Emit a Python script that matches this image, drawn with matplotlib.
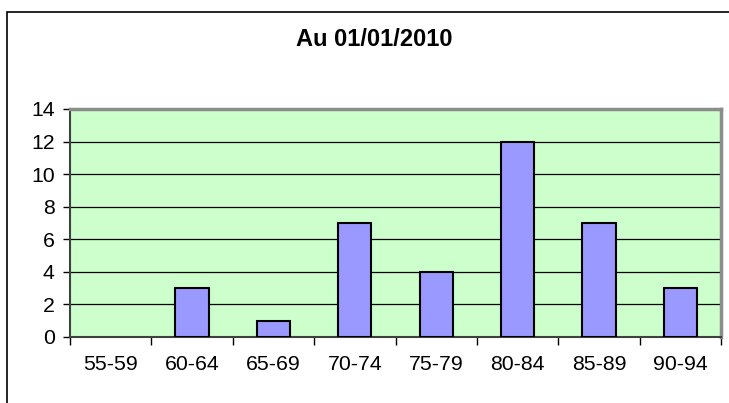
import matplotlib.pyplot as plt
import matplotlib.patches as patches
import numpy as np

categories = ["55-59", "60-64", "65-69", "70-74", "75-79", "80-84", "85-89", "90-94"]
counts = [0, 3, 1, 7, 4, 12, 7, 3]
yticks = [0, 2, 4, 6, 8, 10, 12, 14]

plt.rcParams['font.family'] = ['Liberation Sans', 'DejaVu Sans']

fig = plt.figure(figsize=(7.29, 4.03), dpi=100)
ax = fig.add_axes([70 / 729, 66 / 403, 651 / 729, 228 / 403])

x = np.arange(len(categories))
bars = ax.bar(x, counts, width=0.41, color='#9999FF', edgecolor='black', linewidth=1.5, zorder=3)
# empty classes leave no outline
for b, c in zip(bars, counts):
    if c == 0:
        b.set_edgecolor('none')

ax.set_facecolor('#CCFFCC')
ax.set_xlim(-0.5, len(categories) - 0.5)
ax.set_ylim(0, 14)
ax.set_yticks(yticks)
ax.yaxis.grid(True, color='black', linewidth=0.9, zorder=1)
ax.set_axisbelow(True)

# category boundaries as tick marks, labels at centres
ax.set_xticks(np.arange(len(categories) + 1) - 0.5)
ax.set_xticklabels([])
ax.set_xticks(x, minor=True)
ax.set_xticklabels(categories, minor=True, fontsize=15.3)
ax.tick_params(axis='x', which='minor', length=0, pad=13)
ax.tick_params(axis='x', which='major', length=6, width=1, direction='out')
ax.tick_params(axis='y', length=5, width=1, direction='out', labelsize=15.3, pad=6)

for side in ['left', 'bottom']:
    ax.spines[side].set_color('#404040')
    ax.spines[side].set_linewidth(1.5)
for side in ['top', 'right']:
    ax.spines[side].set_color('#8c8c8c')
    ax.spines[side].set_linewidth(2.5)

fig.text(374 / 729, 1 - 40 / 403, "Au 01/01/2010", ha='center', va='center',
         fontsize=17, fontweight='bold')

# outer chart frame (runs off the right and bottom edges)
frame = patches.Rectangle((7 / 729, -0.05), 1.1, 1 - 12 / 403 + 0.05,
                          transform=fig.transFigure, fill=False,
                          edgecolor='black', linewidth=1.2, clip_on=False)
fig.patches.append(frame)

fig.savefig("out.png", dpi=100)
